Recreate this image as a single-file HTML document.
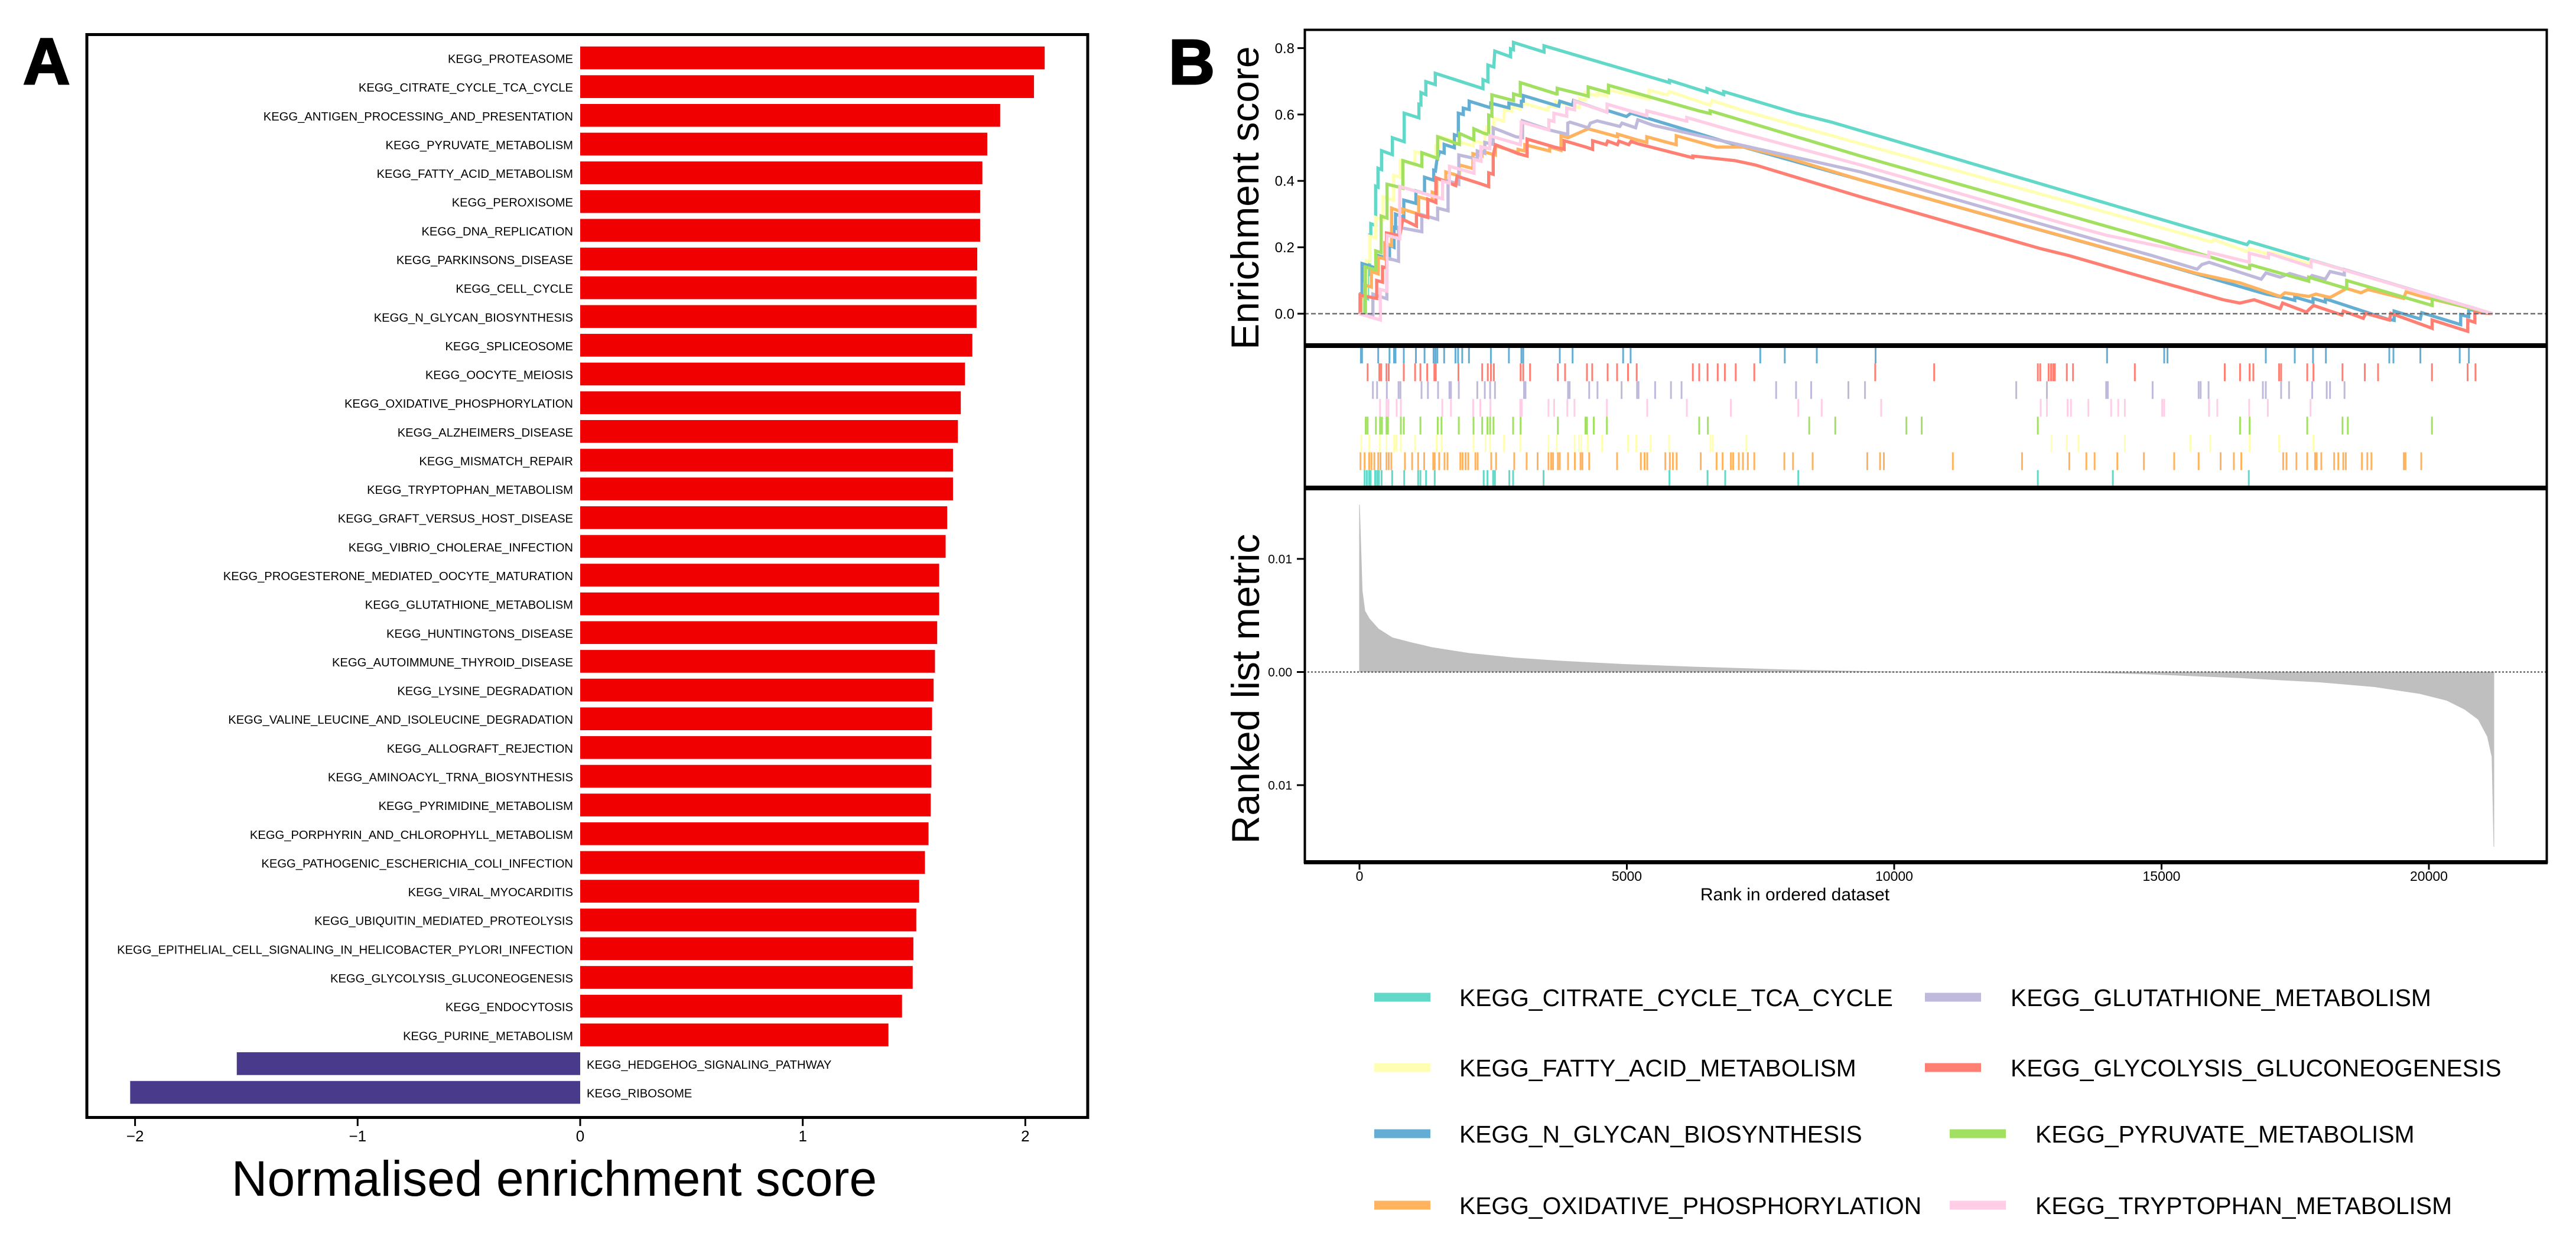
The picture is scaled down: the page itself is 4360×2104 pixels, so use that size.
<!DOCTYPE html>
<html lang="en">
<head>
<meta charset="utf-8">
<title>KEGG gene set enrichment analysis</title>
<style>
html,body{margin:0;padding:0;background:#fff;}
body{width:4360px;height:2104px;overflow:hidden;}
svg{display:block;font-family:"Liberation Sans",Arial,sans-serif;}
</style>
</head>
<body>
<svg id="figure" xmlns="http://www.w3.org/2000/svg" width="4360" height="2104" viewBox="0 0 4360 2104">
  <rect x="0" y="0" width="4360" height="2104" fill="#ffffff"/>
  <text x="39" y="142" font-size="110" font-weight="700" stroke="#000" stroke-width="3" fill="#000">A</text>
  <text x="1978" y="142" font-size="108" font-weight="700" stroke="#000" stroke-width="3" fill="#000">B</text>
  <text x="938" y="2024" font-size="84" text-anchor="middle" fill="#000">Normalised enrichment score</text>
  <text transform="translate(2130 335) rotate(-90)" font-size="66" text-anchor="middle" fill="#000">Enrichment score</text>
  <text transform="translate(2131 1166) rotate(-90)" font-size="66" text-anchor="middle" fill="#000">Ranked list metric</text>
  <text x="3038" y="1524" font-size="30" text-anchor="middle" fill="#000">Rank in ordered dataset</text>
  <g id="panelA"></g>
  <g id="panelB"></g>
  <g id="legend"></g>
</svg>
<script>
/* ---------- Panel A data ---------- */
const barCategories = ["KEGG_PROTEASOME","KEGG_CITRATE_CYCLE_TCA_CYCLE","KEGG_ANTIGEN_PROCESSING_AND_PRESENTATION","KEGG_PYRUVATE_METABOLISM","KEGG_FATTY_ACID_METABOLISM","KEGG_PEROXISOME","KEGG_DNA_REPLICATION","KEGG_PARKINSONS_DISEASE","KEGG_CELL_CYCLE","KEGG_N_GLYCAN_BIOSYNTHESIS","KEGG_SPLICEOSOME","KEGG_OOCYTE_MEIOSIS","KEGG_OXIDATIVE_PHOSPHORYLATION","KEGG_ALZHEIMERS_DISEASE","KEGG_MISMATCH_REPAIR","KEGG_TRYPTOPHAN_METABOLISM","KEGG_GRAFT_VERSUS_HOST_DISEASE","KEGG_VIBRIO_CHOLERAE_INFECTION","KEGG_PROGESTERONE_MEDIATED_OOCYTE_MATURATION","KEGG_GLUTATHIONE_METABOLISM","KEGG_HUNTINGTONS_DISEASE","KEGG_AUTOIMMUNE_THYROID_DISEASE","KEGG_LYSINE_DEGRADATION","KEGG_VALINE_LEUCINE_AND_ISOLEUCINE_DEGRADATION","KEGG_ALLOGRAFT_REJECTION","KEGG_AMINOACYL_TRNA_BIOSYNTHESIS","KEGG_PYRIMIDINE_METABOLISM","KEGG_PORPHYRIN_AND_CHLOROPHYLL_METABOLISM","KEGG_PATHOGENIC_ESCHERICHIA_COLI_INFECTION","KEGG_VIRAL_MYOCARDITIS","KEGG_UBIQUITIN_MEDIATED_PROTEOLYSIS","KEGG_EPITHELIAL_CELL_SIGNALING_IN_HELICOBACTER_PYLORI_INFECTION","KEGG_GLYCOLYSIS_GLUCONEOGENESIS","KEGG_ENDOCYTOSIS","KEGG_PURINE_METABOLISM","KEGG_HEDGEHOG_SIGNALING_PATHWAY","KEGG_RIBOSOME"];
const barValues = [2.087,2.039,1.887,1.829,1.807,1.797,1.797,1.784,1.781,1.781,1.762,1.729,1.710,1.697,1.675,1.675,1.649,1.642,1.613,1.613,1.604,1.594,1.588,1.581,1.578,1.578,1.575,1.565,1.549,1.523,1.510,1.497,1.494,1.446,1.385,-1.543,-2.022];
const nesTicks = [-2,-1,0,1,2];

/* ---------- Panel B running enrichment curves: [rank, enrichment score] ---------- */
const citrateCurve = [[0,0],[100,-.004],[100,.05],[150,.046],[150,.12],[190,.118],[190,.236],[211,.235],[211,.271],[302,.266],[302,.384],[346,.381],[346,.438],[412,.434],[412,.491],[615,.479],[615,.530],[836,.518],[836,.604],[1112,.590],[1112,.631],[1149,.629],[1149,.666],[1241,.660],[1241,.699],[1418,.690],[1418,.724],[2309,.678],[2309,.705],[2401,.699],[2401,.749],[2512,.743],[2530,.791],[2825,.774],[2825,.798],[2880,.795],[2880,.817],[3451,.788],[3451,.807],[5797,.696],[5797,.703],[6498,.667],[6498,.678],[6811,.660],[6811,.669],[8163,.604],[8828,.577],[14067,.328],[16598,.208],[16642,.217],[17752,.164],[21189,0]];
const fattyCurve = [[0,0],[33,-.002],[33,.06],[130,.055],[130,.16],[190,.157],[190,.233],[300,.228],[300,.29],[440,.283],[440,.352],[640,.342],[640,.417],[762,.411],[762,.462],[1039,.449],[1039,.488],[1425,.47],[1425,.506],[1499,.503],[1499,.533],[2125,.506],[2143,.521],[2346,.512],[2346,.548],[2383,.546],[2383,.562],[2512,.556],[2512,.589],[2696,.58],[2714,.616],[2843,.61],[2843,.625],[3009,.616],[3064,.634],[3524,.613],[3543,.628],[3672,.622],[3672,.640],[4114,.62],[4114,.648],[4224,.643],[4224,.666],[4445,.656],[4445,.663],[4630,.655],[4630,.675],[5416,.646],[5416,.673],[5754,.659],[5797,.669],[6557,.628],[6599,.642],[7191,.611],[9371,.512],[15577,.233],[15932,.216],[15976,.223],[16642,.185],[16642,.196],[17000,.179],[17042,.185],[17752,.151],[17797,.161],[21189,0]];
const glycanCurve = [[0,0],[25,0],[25,.06],[47,.06],[47,.151],[350,.135],[350,.175],[561,.165],[561,.206],[646,.2],[646,.26],[674,.258],[674,.3],[829,.29],[829,.342],[1055,.332],[1055,.37],[1217,.362],[1217,.411],[1388,.402],[1388,.432],[1421,.43],[1444,.459],[1499,.488],[1583,.484],[1583,.51],[1775,.5],[1775,.539],[1849,.535],[1849,.604],[1941,.6],[1941,.619],[2052,.615],[2052,.640],[2457,.62],[2457,.634],[2795,.62],[2795,.634],[3028,.625],[3028,.64],[3063,.64],[3063,.657],[3727,.625],[3746,.64],[3985,.628],[4003,.642],[4630,.607],[4656,.611],[4994,.594],[5078,.604],[7022,.509],[9371,.403],[15044,.148],[16953,.059],[17353,.046],[17492,.04],[17492,.05],[17833,.034],[17833,.046],[18063,.035],[18063,.045],[19218,-.016],[19350,-.02],[19350,.008],[19839,-.016],[19866,.003],[20594,-.033],[20594,-.003],[20745,-.009],[20745,.013],[21189,0]];
const oxphosCurve = [[0,0],[19,0],[19,.056],[96,.05],[96,.087],[223,.08],[223,.127],[350,.12],[350,.17],[473,.165],[473,.213],[600,.205],[600,.318],[811,.305],[811,.315],[1107,.30],[1107,.352],[1360,.34],[1360,.366],[1445,.362],[1445,.407],[1614,.4],[1614,.427],[1867,.415],[1867,.448],[2121,.437],[2121,.482],[2290,.475],[2290,.489],[2543,.478],[2543,.506],[2966,.485],[2966,.495],[3093,.49],[3093,.509],[3557,.49],[3557,.502],[3769,.492],[3769,.536],[3901,.53],[4276,.557],[4825,.533],[4825,.541],[5205,.523],[5374,.516],[5374,.533],[5754,.516],[5924,.509],[5924,.536],[6684,.502],[7191,.502],[7951,.472],[9371,.403],[15666,.121],[16465,.093],[17220,.052],[17308,.063],[17752,.052],[17886,.059],[18152,.049],[18463,.076],[18729,.063],[18862,.073],[19528,.046],[19573,.066],[19884,.051],[21189,0]];
const glutathioneCurve = [[0,0],[251,-.006],[251,.059],[512,.045],[512,.168],[730,.158],[730,.26],[1166,.247],[1166,.298],[1462,.284],[1462,.318],[1656,.31],[1656,.40],[1858,.39],[1858,.478],[2203,.466],[2203,.49],[2344,.483],[2344,.516],[2501,.51],[2501,.560],[2924,.533],[3050,.53],[3050,.581],[3557,.553],[3895,.54],[3895,.574],[3938,.577],[4276,.56],[4318,.574],[4445,.581],[4867,.564],[4909,.574],[5163,.560],[5205,.584],[5501,.567],[9371,.427],[13978,.213],[14822,.175],[15666,.134],[15754,.148],[15888,.155],[16864,.104],[16953,.123],[17220,.110],[17397,.121],[17752,.104],[17815,.115],[18063,.104],[18152,.127],[18419,.117],[18419,.133],[21189,0]];
const glycolysisCurve = [[0,0],[10,0],[10,.056],[321,.046],[321,.10],[431,.095],[431,.141],[505,.138],[505,.243],[752,.235],[811,.284],[1065,.264],[1065,.30],[1276,.29],[1276,.345],[1428,.335],[1428,.41],[1800,.386],[1825,.414],[2290,.390],[2417,.383],[2417,.424],[2501,.42],[2501,.475],[2543,.509],[2966,.482],[3135,.475],[3135,.526],[3642,.502],[3828,.495],[3828,.521],[4233,.502],[4360,.495],[4360,.521],[4614,.509],[4641,.52],[4825,.509],[4850,.52],[5036,.509],[5078,.519],[5205,.512],[6177,.472],[6234,.47],[6234,.475],[7022,.461],[7402,.448],[9371,.352],[12735,.196],[13268,.175],[14511,.117],[16154,.042],[16465,.032],[16731,.042],[17220,.015],[17264,.032],[17708,.005],[17841,.025],[18374,-.004],[18400,.008],[18774,-.014],[18818,.001],[19262,-.019],[19289,.001],[20061,-.044],[20061,-.019],[20727,-.053],[20727,-.019],[20860,-.026],[20860,.005],[21189,0]];
const pyruvateCurve = [[0,0],[110,-.003],[110,.141],[304,.132],[304,.189],[405,.184],[405,.294],[515,.288],[515,.39],[769,.380],[811,.378],[811,.461],[1166,.444],[1166,.485],[1462,.468],[1462,.533],[1825,.512],[1867,.510],[1867,.543],[2104,.526],[2138,.524],[2138,.557],[2332,.543],[2417,.54],[2417,.598],[2476,.595],[2476,.659],[2881,.642],[2881,.662],[3008,.656],[3008,.696],[3684,.662],[3697,.662],[3697,.679],[4191,.659],[4276,.655],[4276,.683],[4614,.668],[4656,.666],[4656,.688],[6346,.611],[6557,.603],[6557,.611],[9371,.475],[14999,.216],[15888,.172],[16465,.144],[16647,.136],[16647,.148],[17708,.100],[17752,.098],[17752,.110],[18374,.080],[18463,.076],[18463,.100],[20061,.025],[20061,.046],[21189,0]];
const tryptophanCurve = [[0,0],[389,-.019],[389,.073],[515,.068],[515,.236],[752,.226],[752,.383],[1554,.346],[1554,.399],[1683,.393],[1683,.444],[2143,.423],[2143,.465],[2272,.459],[2272,.503],[2438,.497],[2438,.536],[3009,.509],[3027,.577],[3543,.553],[3543,.583],[3635,.579],[3635,.604],[3875,.595],[3875,.619],[4022,.614],[4022,.640],[4630,.607],[4630,.631],[5332,.598],[5374,.596],[5374,.611],[6093,.581],[6121,.58],[6121,.591],[6937,.553],[9371,.448],[13179,.271],[13978,.236],[14999,.202],[15843,.172],[15888,.17],[15888,.185],[16642,.155],[16642,.182],[17000,.168],[17000,.182],[17797,.141],[17797,.161],[21189,0]];

/* ---------- Panel B hit positions (rank of each gene in the set) ---------- */
const glycanHits = [26,47,350,561,646,674,829,1055,1217,1386,1421,1456,1583,1794,1844,1921,2048,2457,2795,3028,3063,3746,3986,4930,5071,7495,7954,8553,9652,13981,15050,15112,16950,17492,17833,18074,19260,19337,19841,20577,20748];
const glycolysisHits = [153,371,406,505,547,829,1040,1139,1266,1400,1428,1851,2295,2400,2457,2513,3013,3063,3190,3711,3845,4254,4353,4641,4818,5022,5184,6234,6354,6509,6699,6833,7037,7383,9645,10748,12686,12732,12888,12934,12973,13004,13229,13345,14500,16182,16469,16647,16717,17198,17236,17725,17841,18384,18802,19050,20058,20725,20872];
const glutathioneHits = [251,329,512,730,766,1160,1280,1470,1682,1710,1858,2203,2344,2443,2534,3077,3105,3901,3930,4296,4451,4902,5191,5219,5529,5825,6023,7792,8165,8447,9144,9454,12283,12856,13965,13996,14833,15694,15732,15880,16895,16950,17237,17384,17818,18089,18151,18422];
const tryptophanHits = [385,505,540,695,773,1548,1710,2126,2260,2450,3007,3035,3535,3641,3887,4021,4627,5381,6121,6946,8207,8644,9757,12740,12856,13244,13306,13632,14058,14190,14314,15012,15050,15888,16043,16640,16988,17787];
const pyruvateHits = [117,153,307,385,420,505,533,773,829,1139,1463,1534,1858,2133,2295,2393,2443,2506,2873,3013,3711,4226,4254,4381,4627,6354,6516,8411,8898,10229,10515,12686,16469,16647,17725,18384,18484,20058];
const fattyHits = [33,181,378,505,646,688,773,1040,1442,1534,2133,2358,2443,2703,3007,3535,3690,4021,4106,4148,4268,4536,5022,5177,5445,5790,6565,6607,7235,12942,13229,13446,14314,15539,15911,16647,17198,17841];
const oxphosHits = [19,96,181,223,279,350,392,505,547,596,850,984,1097,1210,1379,1407,1491,1590,1646,1886,1928,1985,2034,2168,2210,2464,2555,2894,3126,3331,3535,3584,3620,3711,3746,3901,4028,4134,4169,4296,4818,5262,5332,5381,5720,5804,5861,5931,6382,6678,6791,6946,6988,7094,7171,7263,7383,7946,8108,8475,9497,9736,9807,11097,12391,13275,13593,13748,14174,14671,15236,15694,16105,16353,16492,17275,17337,17523,17725,17872,17903,17988,18229,18306,18399,18446,18748,18849,18926,19531,19562,19857];
const citrateHits = [96,138,181,209,293,329,364,413,611,836,1097,1139,1245,1407,2323,2393,2499,2534,2802,2873,3443,5797,6509,6840,8207,12686,14089,16632];

/* ---------- Panel B ranked list metric: ranks and metric values ---------- */
const metricRanks = [0,0,51,100,186,356,610,948,1371,2048,2895,3741,4927,6281,7974,9159,10175,13307,14746,16439,17963,18979,19825,20333,20672,20926,21095,21180,21215,21215];
const metricValues = [0,.0148,.0072,.0054,.0047,.0038,.00304,.00262,.00215,.00165,.00125,.00097,.00068,.00044,.0002,.00008,0,0,-.00018,-.0005,-.00089,-.0013,-.0019,-.0025,-.0033,-.0042,-.0057,-.0075,-.01544,0];

/* ---------- Tick labels ---------- */
const esTicks = [0,0.2,0.4,0.6,0.8];
const metricTicks = [0.01,0,-0.01];
const metricTickLabels = ["0.01","0.00","0.01"];
const rankTicks = [0,5000,10000,15000,20000];

/* ---------- Series names ---------- */
const curveOrderNames = ["KEGG_CITRATE_CYCLE_TCA_CYCLE","KEGG_FATTY_ACID_METABOLISM","KEGG_N_GLYCAN_BIOSYNTHESIS","KEGG_OXIDATIVE_PHOSPHORYLATION","KEGG_GLUTATHIONE_METABOLISM","KEGG_GLYCOLYSIS_GLUCONEOGENESIS","KEGG_PYRUVATE_METABOLISM","KEGG_TRYPTOPHAN_METABOLISM"];

/* ---------- Axis functions ---------- */
const xNes = v => 982 + 376.7 * v;
const yBand = i => 98 + 48.64 * i;
const xRank = r => 2301 + 0.0905 * r;
const yES = e => 531 - 562 * e;
const yMetric = m => 1137.5 - 19150 * m;

const NS = "http://www.w3.org/2000/svg";
function make(tag, attrs, parent, text) {
  const el = document.createElementNS(NS, tag);
  for (const k in attrs) el.setAttribute(k, attrs[k]);
  if (text !== undefined) el.textContent = text;
  parent.appendChild(el);
  return el;
}
function slug(s) { return s.toLowerCase().replace(/^kegg_/, "").replace(/_/g, "-"); }

const panelA = document.getElementById("panelA");
const panelB = document.getElementById("panelB");
const legendG = document.getElementById("legend");

/* ---------- Panel A ---------- */
barCategories.forEach((name, i) => {
  const v = barValues[i];
  const x0 = xNes(0), x1 = xNes(v), yc = yBand(i);
  const bar = make("rect", {x: Math.min(x0, x1), y: yc - 19.3, width: Math.abs(x1 - x0), height: 38.6, fill: v >= 0 ? "#f00000" : "#4a3a8c"}, panelA);
  
  
  const label = make("text", {x: v >= 0 ? 970 : 993, y: yc + 8.5, "font-size": 20.2, "text-anchor": v >= 0 ? "end" : "start", fill: "#000"}, panelA, name);
  
  
});
const frameA = make("rect", {x: 147, y: 58.5, width: 1694, height: 1833, fill: "none", stroke: "#000", "stroke-width": 5}, panelA);


nesTicks.forEach(t => {
  const tick = make("line", {x1: xNes(t), x2: xNes(t), y1: 1893, y2: 1906, stroke: "#000", "stroke-width": 3}, panelA);
  
  
  const lab = make("text", {x: xNes(t), y: 1932, "font-size": 26, "text-anchor": "middle", fill: "#000"}, panelA, t < 0 ? "\u2212" + Math.abs(t) : String(t));
  
  
});

/* ---------- Panel B: running enrichment curves ---------- */
const curveColors = ["#61d8c8","#ffffb3","#64aed4","#ffb35f","#bfbadc","#ff7f72","#a2e061","#ffcde6"];
const curves = [citrateCurve, fattyCurve, glycanCurve, oxphosCurve, glutathioneCurve, glycolysisCurve, pyruvateCurve, tryptophanCurve];
curves.forEach((pts, i) => {
  const d = pts.map(p => xRank(p[0]).toFixed(1) + "," + yES(p[1]).toFixed(1)).join(" ");
  const line = make("polyline", {points: d, fill: "none", stroke: curveColors[i], "stroke-width": 5.4, "stroke-linejoin": "miter"}, panelB);
  
  
});
const esZero = make("line", {x1: 2207, x2: 4312, y1: yES(0), y2: yES(0), stroke: "#6e6e6e", "stroke-width": 2.5, "stroke-dasharray": "8 4"}, panelB);



/* ---------- Panel B: hit rug ---------- */
const rugSets = [glycanHits, glycolysisHits, glutathioneHits, tryptophanHits, pyruvateHits, fattyHits, oxphosHits, citrateHits];
const rugNames = ["n-glycan","glycolysis","glutathione","tryptophan","pyruvate","fatty-acid","oxidative-phosphorylation","citrate-cycle"];
const rugColors = ["#64aed4","#ff7f72","#bfbadc","#ffcde6","#a2e061","#ffffb3","#ffb35f","#61d8c8"];
rugSets.forEach((hits, row) => {
  const y0 = 585 + 30.1 * row;
  const d = hits.map(r => "M" + xRank(r).toFixed(1) + " " + y0.toFixed(1) + "V" + (y0 + 30.1).toFixed(1)).join("");
  const rug = make("path", {d: d, stroke: rugColors[row], "stroke-width": 3, fill: "none"}, panelB);
  
  
});

/* ---------- Panel B: ranked metric ---------- */
const areaPts = metricRanks.map((r, i) => xRank(r).toFixed(1) + "," + yMetric(metricValues[i]).toFixed(1)).join(" ");
const area = make("polygon", {points: areaPts, fill: "#bfbfbf", stroke: "#bfbfbf", "stroke-width": 1}, panelB);


const metricZero = make("line", {x1: 2207, x2: 4312, y1: yMetric(0), y2: yMetric(0), stroke: "#666", "stroke-width": 2.5, "stroke-dasharray": "3 3"}, panelB);



/* ---------- Panel B: frames and dividers ---------- */
const frameB = make("rect", {x: 2208.5, y: 50.5, width: 2102, height: 1409, fill: "none", stroke: "#000", "stroke-width": 4}, panelB);


const bottomEdge = make("rect", {x: 2207, y: 1456, width: 2105, height: 7, fill: "#000"}, panelB);


const dividerTop = make("rect", {x: 2207, y: 581, width: 2105, height: 8, fill: "#000"}, panelB);


const dividerBottom = make("rect", {x: 2207, y: 822, width: 2105, height: 8, fill: "#000"}, panelB);



/* ---------- Panel B: ticks ---------- */
esTicks.forEach(t => {
  const tick = make("line", {x1: 2196, x2: 2207, y1: yES(t), y2: yES(t), stroke: "#000", "stroke-width": 3}, panelB);
  
  
  const lab = make("text", {x: 2191, y: yES(t) + 8.5, "font-size": 24, "text-anchor": "end", fill: "#000"}, panelB, t.toFixed(1));
  
  
});
metricTicks.forEach((t, i) => {
  const tick = make("line", {x1: 2195, x2: 2207, y1: yMetric(t), y2: yMetric(t), stroke: "#000", "stroke-width": 3}, panelB);
  
  
  const lab = make("text", {x: 2187, y: yMetric(t) + 7.5, "font-size": 21, "text-anchor": "end", fill: "#000"}, panelB, metricTickLabels[i]);
  
  
});
rankTicks.forEach(t => {
  const tick = make("line", {x1: xRank(t), x2: xRank(t), y1: 1463, y2: 1472, stroke: "#000", "stroke-width": 3}, panelB);
  
  
  const lab = make("text", {x: xRank(t), y: 1491, "font-size": 23, "text-anchor": "middle", fill: "#000"}, panelB, String(t));
  
  
});

/* ---------- Legend ---------- */
const legendRows = [1688, 1807, 1919, 2040];
const legendCol1 = [0, 1, 2, 3];
const legendCol2 = [4, 5, 6, 7];
legendCol1.forEach((s, row) => {
  const sw = make("rect", {x: 2326, y: legendRows[row] - 7.5, width: 95, height: 15, fill: curveColors[s]}, legendG);
  
  
  const tx = make("text", {x: 2470, y: legendRows[row] + 15, "font-size": 40.8, fill: "#000"}, legendG, curveOrderNames[s]);
  
  
});
legendCol2.forEach((s, row) => {
  const shift = row < 2 ? 0 : 42;
  const sw = make("rect", {x: 3258 + shift, y: legendRows[row] - 7.5, width: 95, height: 15, fill: curveColors[s]}, legendG);
  
  
  const tx = make("text", {x: 3403 + shift, y: legendRows[row] + 15, "font-size": 40.8, fill: "#000"}, legendG, curveOrderNames[s]);
  
  
});
</script>
</body>
</html>
